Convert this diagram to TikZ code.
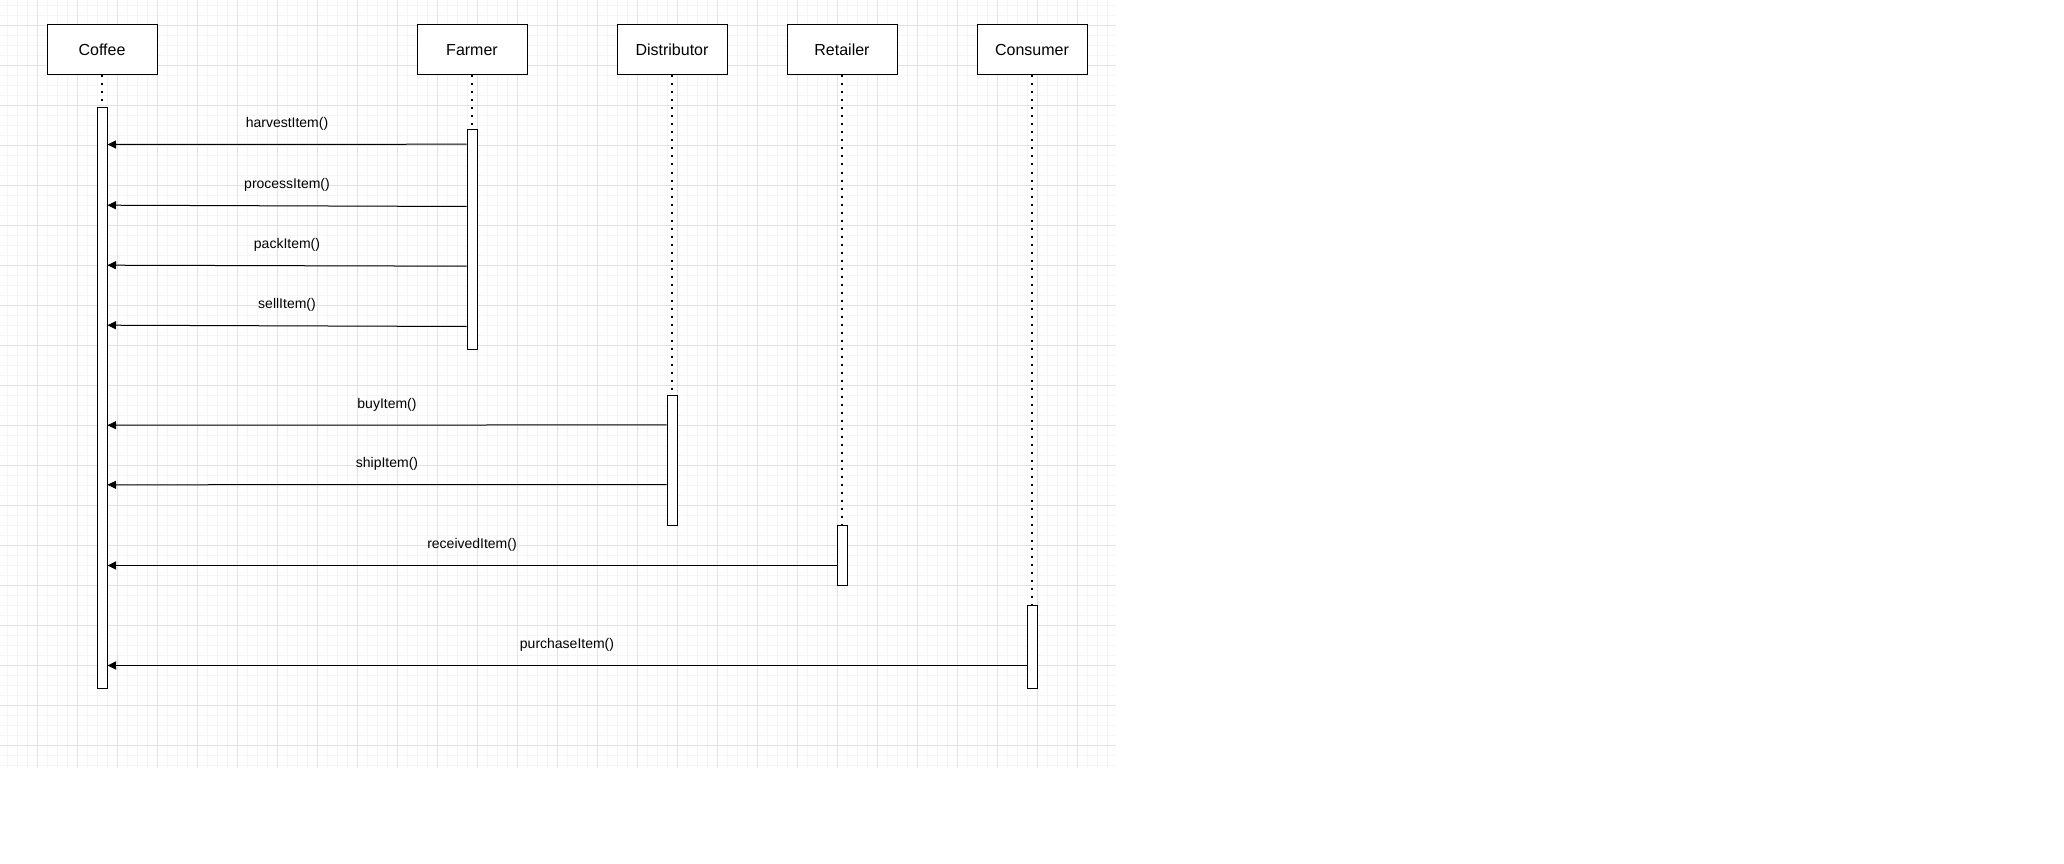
\documentclass[tikz,border=0pt]{standalone}
\usepackage{fontspec}
\setmainfont{Liberation Sans}
\usetikzlibrary{positioning, arrows.meta}
\definecolor{gridminor}{HTML}{F5F5F5}
\definecolor{gridmajor}{HTML}{E2E2E2}
\tikzstyle{actor} = [rectangle, minimum width=110pt, minimum height=50pt, text centered, draw=black, fill=white, line width=1pt, font=\fontsize{16}{19}\selectfont]
\tikzstyle{bar} = [rectangle, minimum width=10pt, inner sep=0pt, draw=black, fill=white, line width=1pt]
\tikzstyle{life} = [line width=2pt, dash pattern=on 2pt off 6pt]
\tikzstyle{msg} = [line width=1pt, -{Triangle[length=8.5pt,width=8pt]}]
\tikzstyle{call} = [midway, yshift=20.5pt, font=\fontsize{14}{17}\selectfont]

\begin{document}
\begin{tikzpicture}[x=1pt, y=-1pt]
        \fill [white, use as bounding box] (0,0) rectangle (2064,864);
        % background grid
        \begin{scope}
            \clip (0,0) rectangle (1116,768);
            \foreach \gx in {7.3,17.3,...,1117.3} \draw [gridminor, line width=1pt] (\gx,0) -- (\gx,768);
            \foreach \gy in {5.3,15.3,...,775.3} \draw [gridminor, line width=1pt] (0,\gy) -- (1116,\gy);
            \foreach \gx in {37.3,77.3,...,1117.3} \draw [gridmajor, line width=1pt] (\gx,0) -- (\gx,768);
            \foreach \gy in {25.3,65.3,...,745.3} \draw [gridmajor, line width=1pt] (0,\gy) -- (1116,\gy);
        \end{scope}
        % actors
        \node (coffee) [actor] at (102,50) {Coffee};
        \node (farmer) [actor, right=259pt of coffee] {Farmer};
        \node (distributor) [actor, right=89pt of farmer] {Distributor};
        \node (retailer) [actor, right=59pt of distributor] {Retailer};
        \node (consumer) [actor, right=79pt of retailer] {Consumer};
        % activation bars
        \node (coffeebar) [bar, minimum height=580pt, below=32pt of coffee] {};
        \node (farmerbar) [bar, minimum height=219pt, below=54pt of farmer] {};
        \node (distributorbar) [bar, minimum height=130pt, below=319pt of distributor] {};
        \node (retailerbar) [bar, minimum height=60pt, below=449pt of retailer] {};
        \node (consumerbar) [bar, minimum height=83pt, below=529pt of consumer] {};
        \draw [life] (coffee) -- (coffeebar);
        \draw [life] (farmer) -- (farmerbar);
        \draw [life] (distributor) -- (distributorbar);
        \draw [life] (retailer) -- (retailerbar);
        \draw [life] (consumer) -- (consumerbar);
        % messages
        \draw [msg] ([yshift=-14.7pt]farmerbar.north west) -- node[call] {harvestItem()} ([yshift=-37pt]coffeebar.north east);
        \draw [msg] ([yshift=-77pt]farmerbar.north west) -- node[call] {processItem()} ([yshift=-97.7pt]coffeebar.north east);
        \draw [msg] ([yshift=-136.7pt]farmerbar.north west) -- node[call] {packItem()} ([yshift=-157.7pt]coffeebar.north east);
        \draw [msg] ([yshift=-197pt]farmerbar.north west) -- node[call] {sellItem()} ([yshift=-217.7pt]coffeebar.north east);
        \draw [msg] ([yshift=-30.4pt]distributorbar.north west) -- node[call] {buyItem()} ([yshift=-317.7pt]coffeebar.north east);
        \draw [msg] ([yshift=-90pt]distributorbar.north west) -- node[call] {shipItem()} ([yshift=-377.3pt]coffeebar.north east);
        \draw [msg] ([yshift=-41pt]retailerbar.north west) -- node[call] {receivedItem()} ([yshift=-458pt]coffeebar.north east);
        \draw [msg] ([yshift=-61pt]consumerbar.north west) -- node[call] {purchaseItem()} ([yshift=-558pt]coffeebar.north east);
    \end{tikzpicture}
\end{document}
